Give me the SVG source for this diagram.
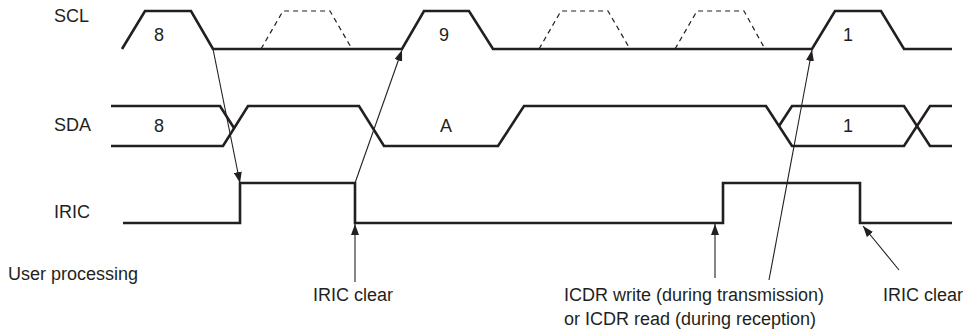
<svg xmlns="http://www.w3.org/2000/svg" width="974" height="329" viewBox="0 0 974 329">
<style>
  .wave{fill:none;stroke:#231f20;stroke-width:2.6;stroke-linejoin:miter;stroke-linecap:butt}
  .dash{fill:none;stroke:#231f20;stroke-width:1.2;stroke-dasharray:5,4}
  .conn{fill:none;stroke:#231f20;stroke-width:1.1}
  text{font-family:"Liberation Sans",Arial,sans-serif;font-size:18px;fill:#231f20}
  .mid{text-anchor:middle}
</style>
<defs>
  <marker id="ah" markerUnits="userSpaceOnUse" markerWidth="11" markerHeight="8" refX="11" refY="4" orient="auto">
    <path d="M0,0 L11,4 L0,8 Z" fill="#231f20"/>
  </marker>
</defs>
<rect width="974" height="329" fill="#ffffff"/>

<g id="labels">
  <text x="54" y="22">SCL</text>
  <text x="54" y="131">SDA</text>
  <text x="54" y="218">IRIC</text>
  <text x="8" y="280">User processing</text>
</g>

<g id="scl">
  <polyline class="wave" points="122,49 145,11 191,11 213,49 402,49 424,11 469,11 493,49 812,49 835,11 881,11 904,49 952,49"/>
  <polyline class="dash" points="261,49 283,11 330,11 352,49"/>
  <polyline class="dash" points="539,49 561,11 608,11 630,49"/>
  <polyline class="dash" points="675,49 697,11 744,11 765,49"/>
  <text class="mid" x="159" y="41">8</text>
  <text class="mid" x="444" y="41">9</text>
  <text class="mid" x="848" y="41">1</text>
</g>

<g id="sda">
  <polyline class="wave" points="111,106 220,106 234,128"/>
  <polyline class="wave" points="111,146 223,146 248,106 359,106 384,146 498,146 524,106 766,106 792,146 904,146 930,106 952,106"/>
  <polyline class="wave" points="779,126 792,106 904,106 930,146 952,146"/>
  <text class="mid" x="159" y="132">8</text>
  <text class="mid" x="446" y="132">A</text>
  <text class="mid" x="848" y="132">1</text>
</g>

<g id="iric">
  <polyline class="wave" points="123,223 240,223 240,183 355,183 355,223 723,223 723,183 860,183 860,223 952,223"/>
</g>

<g id="connectors">
  <line class="conn" x1="213" y1="49" x2="240" y2="183" marker-end="url(#ah)"/>
  <line class="conn" x1="355" y1="183" x2="402" y2="50" marker-end="url(#ah)"/>
  <line class="conn" x1="355" y1="282" x2="355" y2="224" marker-end="url(#ah)"/>
  <line class="conn" x1="715" y1="278" x2="715" y2="224" marker-end="url(#ah)"/>
  <line class="conn" x1="769" y1="280" x2="812" y2="50" marker-end="url(#ah)"/>
  <line class="conn" x1="899" y1="270" x2="863" y2="226" marker-end="url(#ah)"/>
</g>

<g id="notes">
  <text x="313" y="301">IRIC clear</text>
  <text x="564" y="301">ICDR write (during transmission)</text>
  <text x="564" y="325">or ICDR read (during reception)</text>
  <text x="883" y="301">IRIC clear</text>
</g>
</svg>
